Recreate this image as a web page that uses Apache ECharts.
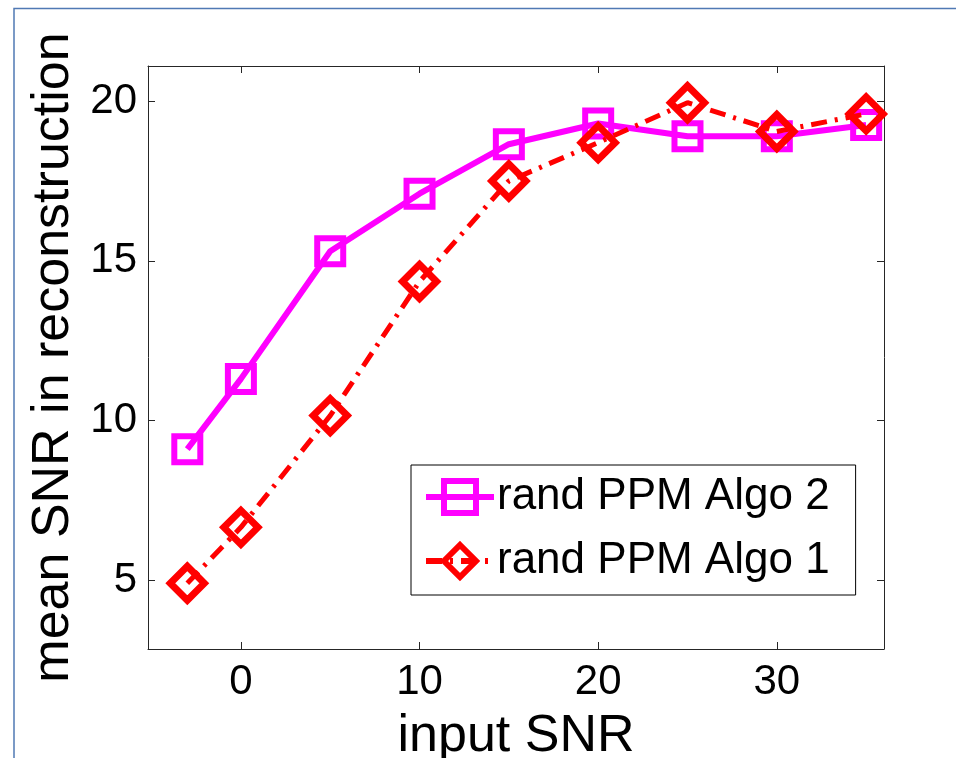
<!DOCTYPE html>
<html>
<head>
<meta charset="utf-8">
<script src="https://cdn.jsdelivr.net/npm/echarts@6/dist/echarts.min.js"></script>
<style>
  html, body { margin: 0; padding: 0; background: #fff; }
  #chart { width: 956px; height: 758px; }
</style>
</head>
<body>
<div id="chart"></div>
<script>
// Input SNR levels (dB)
const inputSNR = [-3, 0, 5, 10, 15, 20, 25, 30, 35];
// Mean reconstruction SNR for each algorithm
const algo2 = [9.1, 11.3, 15.3, 17.1, 18.65, 19.3, 18.9, 18.9, 19.25];
const algo1 = [4.9, 6.65, 10.15, 14.35, 17.5, 18.7, 19.95, 19.05, 19.6];
// Tick labels
const xTicks = [0, 10, 20, 30];
const yTicks = [5, 10, 15, 20];
const seriesNames = ['rand PPM Algo 2', 'rand PPM Algo 1'];

const FONT = '"Liberation Sans", Arial, sans-serif';
const AXIS_COLOR = '#262626';
const X_MIN = -5.2, X_MAX = 36;
const Y_MIN = 2.84, Y_MAX = 21.1;

function pairs(xs, ys) { return xs.map((x, i) => [x, ys[i]]); }

const boxAxisLine = { show: true, onZero: false, lineStyle: { color: AXIS_COLOR, width: 1 } };
const boxTick = (vals) => ({ show: true, inside: true, length: 7, customValues: vals, lineStyle: { color: AXIS_COLOR } });

const chart = echarts.init(document.getElementById('chart'), null, { renderer: 'canvas' });
chart.setOption({
  backgroundColor: '#fff',
  animation: false,
  textStyle: { fontFamily: FONT },
  graphic: [{
    type: 'rect',
    silent: true,
    shape: { x: 14, y: 8.5, width: 1000, height: 800 },
    style: { fill: 'none', stroke: '#5079b4', lineWidth: 1.5 }
  }],
  grid: { left: 148, right: 72, top: 66, bottom: 109, containLabel: false, outerBoundsMode: 'none' },
  legend: {
    data: seriesNames,
    orient: 'vertical',
    left: 411, top: 465,
    width: 446,
    padding: [6, 26, 8, 12],
    itemWidth: 68, itemHeight: 40,
    itemGap: 12,
    backgroundColor: '#fff',
    borderColor: '#000', borderWidth: 1,
    lineStyle: { width: 6 },
    itemStyle: { borderWidth: 6 },
    textStyle: { fontFamily: FONT, fontSize: 44, color: '#000', lineHeight: 52, padding: [0, 0, 0, -2] }
  },
  xAxis: [{
    type: 'value', min: X_MIN, max: X_MAX, position: 'bottom',
    name: 'input SNR', nameLocation: 'middle', nameGap: 62,
    nameTextStyle: { fontFamily: FONT, fontSize: 52, color: '#000' },
    axisLine: boxAxisLine,
    axisTick: boxTick(xTicks),
    axisLabel: { show: true, customValues: xTicks, margin: 12, fontFamily: FONT, fontSize: 42, color: '#000' },
    splitLine: { show: false }
  }, {
    type: 'value', min: X_MIN, max: X_MAX, position: 'top',
    axisLine: boxAxisLine,
    axisTick: boxTick(xTicks),
    axisLabel: { show: false },
    splitLine: { show: false }
  }],
  yAxis: [{
    type: 'value', min: Y_MIN, max: Y_MAX, position: 'left',
    name: 'mean SNR in reconstruction', nameLocation: 'middle', nameGap: 66, nameRotate: 90,
    nameTextStyle: { fontFamily: FONT, fontSize: 52, color: '#000' },
    axisLine: boxAxisLine,
    axisTick: boxTick(yTicks),
    axisLabel: { show: true, customValues: yTicks, margin: 11, fontFamily: FONT, fontSize: 42, color: '#000' },
    splitLine: { show: false }
  }, {
    type: 'value', min: Y_MIN, max: Y_MAX, position: 'right',
    axisLine: boxAxisLine,
    axisTick: boxTick(yTicks),
    axisLabel: { show: false },
    splitLine: { show: false }
  }],
  series: [{
    name: seriesNames[0],
    type: 'line',
    data: pairs(inputSNR, algo2),
    symbol: 'rect',
    symbolSize: 26,
    lineStyle: { color: '#ff00ff', width: 6, type: 'solid' },
    itemStyle: { color: 'rgba(255,255,255,0)', borderColor: '#ff00ff', borderWidth: 6 },
    emphasis: { disabled: true },
    z: 2
  }, {
    name: seriesNames[1],
    type: 'line',
    data: pairs(inputSNR, algo1),
    symbol: 'diamond',
    symbolSize: 34,
    lineStyle: { color: '#ff0000', width: 5, type: [16, 8, 3, 8] },
    itemStyle: { color: 'rgba(255,255,255,0)', borderColor: '#ff0000', borderWidth: 7 },
    emphasis: { disabled: true },
    z: 3
  }]
});
</script>
</body>
</html>
